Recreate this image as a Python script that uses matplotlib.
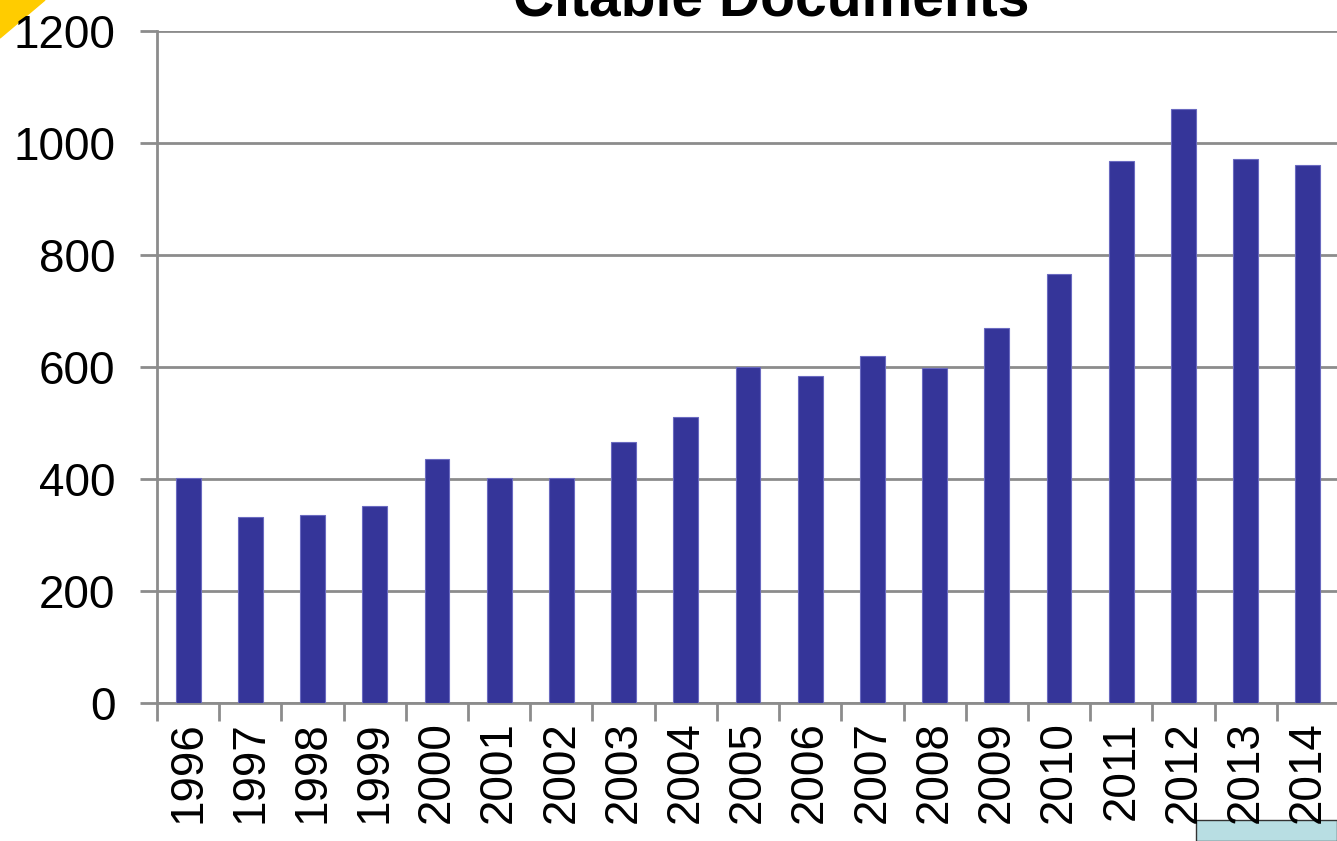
import matplotlib.pyplot as plt
import matplotlib.patches as mpatches
import numpy as np

plt.rcParams['font.family'] = ['Liberation Sans', 'DejaVu Sans']

years = ['1996', '1997', '1998', '1999', '2000', '2001', '2002', '2003', '2004', '2005',
         '2006', '2007', '2008', '2009', '2010', '2011', '2012', '2013', '2014']
docs = [402, 332, 336, 352, 436, 402, 402, 466, 511, 600,
        584, 620, 598, 670, 766, 968, 1061, 971, 961]

grey = '#8c8c8c'

fig = plt.figure(figsize=(13.37, 8.41), dpi=100)
ax = fig.add_axes([157 / 1337, 1 - 703 / 841, 1182 / 1337, 672 / 841])

x = np.arange(len(years))
ax.bar(x, docs, width=0.4, color='#353599', edgecolor='#6a6ac0', linewidth=0.8, zorder=3)

ax.set_xlim(-0.5, len(years) - 0.5)
ax.set_ylim(0, 1200)
ax.set_yticks(range(0, 1201, 200))
ax.set_xticks(x)
ax.set_xticklabels(years, rotation=90)
ax.set_xticks(np.arange(-0.5, len(years), 1), minor=True)

ax.tick_params(axis='y', labelsize=33, length=12, width=2, color=grey, pad=18)
ax.tick_params(axis='x', which='major', labelsize=33, length=0, pad=13)
ax.tick_params(axis='x', which='minor', length=13, width=2, color=grey)
ax.grid(axis='y', color=grey, linewidth=2, zorder=0)

for side in ['top', 'right']:
    ax.spines[side].set_visible(False)
ax.spines['left'].set_color(grey)
ax.spines['left'].set_linewidth(2)
ax.spines['bottom'].set_color(grey)
ax.spines['bottom'].set_linewidth(2)

fig.text(771 / 1337, 1 - 15 / 841, 'Citable Documents', ha='center', va='baseline',
         fontsize=41, fontweight='bold')

# decorative slide remnants
fig.patches.append(mpatches.Polygon([[0, 1], [45 / 1337, 1], [0, 1 - 38 / 841]], closed=True,
                                    transform=fig.transFigure, color='#ffcc00', zorder=-1))
fig.patches.append(mpatches.Rectangle((1196 / 1337, 0), 141 / 1337, 21 / 841,
                                      transform=fig.transFigure, facecolor='#b8dee3',
                                      edgecolor='#333333', linewidth=1, zorder=-1))

fig.savefig('out.png', dpi=100)
